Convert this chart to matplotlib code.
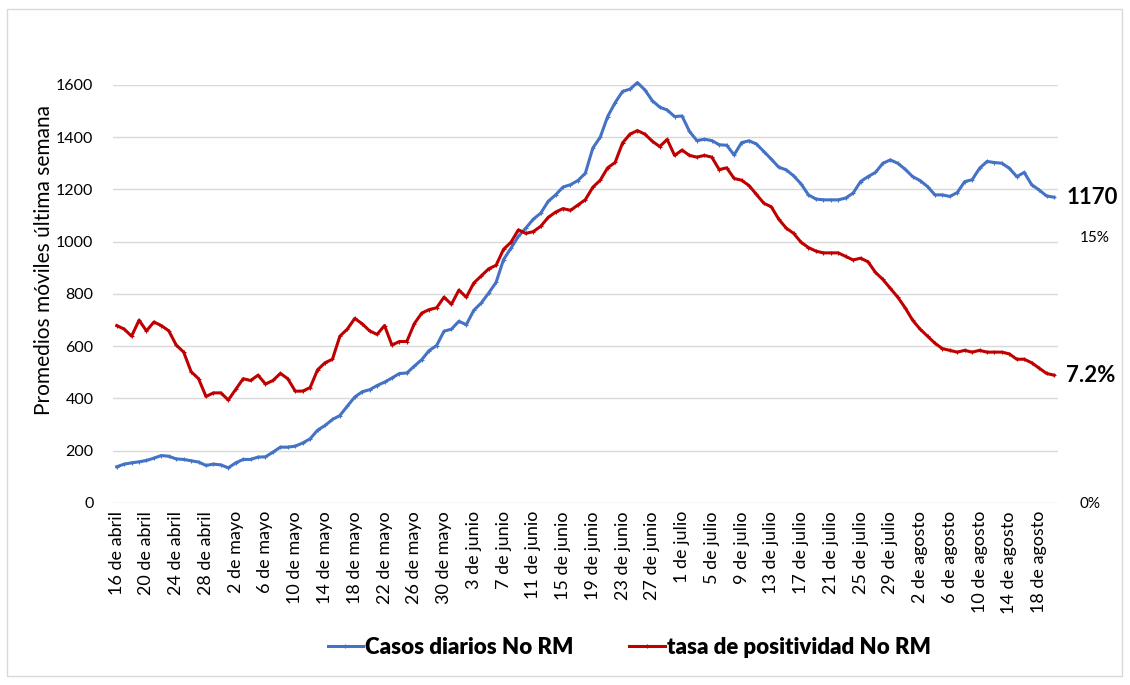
import pandas as pd
import matplotlib
matplotlib.use("Agg")
import matplotlib.pyplot as plt
from matplotlib.patches import Rectangle

plt.rcParams["font.family"] = ["Lato", "DejaVu Sans"]

# promedio movil casos diarios (no RM), 16 abril -> 20 agosto
casos = [
    138, 148, 153, 157, 162, 171, 181, 178, 168, 166,
    161, 156, 143, 148, 145, 134, 153, 166, 166, 175,
    176, 194, 213, 213, 217, 229, 245, 278, 296, 319,
    334, 370, 405, 425, 433, 449, 462, 478, 495, 497,
    523, 548, 583, 602, 657, 665, 695, 682, 737, 765,
    803, 844, 931, 975, 1020, 1052, 1086, 1109, 1154, 1179,
    1209, 1218, 1234, 1262, 1358, 1400, 1479, 1532, 1575, 1584,
    1609, 1581, 1540, 1515, 1504, 1479, 1481, 1422, 1387, 1392,
    1387, 1371, 1369, 1332, 1379, 1386, 1374, 1345, 1316, 1285,
    1275, 1252, 1221, 1179, 1163, 1160, 1160, 1160, 1167, 1186,
    1230, 1249, 1265, 1300, 1313, 1300, 1277, 1249, 1234, 1211,
    1179, 1179, 1173, 1188, 1230, 1237, 1281, 1307, 1303, 1300,
    1281, 1249, 1265, 1218, 1198, 1175, 1170,
]

# tasa de positividad (%)
tasa = [
    10.0, 9.8, 9.4, 10.3, 9.7, 10.2, 10.0, 9.7, 8.9, 8.5,
    7.4, 7.0, 6.0, 6.2, 6.2, 5.8, 6.4, 7.0, 6.9, 7.2,
    6.7, 6.9, 7.3, 7.0, 6.3, 6.3, 6.5, 7.5, 7.9, 8.1,
    9.4, 9.8, 10.4, 10.1, 9.7, 9.5, 10.0, 8.9, 9.1, 9.1,
    10.1, 10.7, 10.9, 11.0, 11.6, 11.2, 12.0, 11.6, 12.4, 12.8,
    13.2, 13.4, 14.3, 14.7, 15.4, 15.2, 15.3, 15.6, 16.1, 16.4,
    16.6, 16.5, 16.8, 17.1, 17.8, 18.2, 18.9, 19.2, 20.3, 20.8,
    21.0, 20.8, 20.4, 20.1, 20.5, 19.6, 19.9, 19.6, 19.5, 19.6,
    19.5, 18.8, 18.9, 18.3, 18.2, 17.9, 17.4, 16.9, 16.7, 16.0,
    15.5, 15.2, 14.7, 14.4, 14.2, 14.1, 14.1, 14.1, 13.9, 13.7,
    13.8, 13.6, 13.0, 12.6, 12.1, 11.6, 11.0, 10.3, 9.8, 9.4,
    9.0, 8.7, 8.6, 8.5, 8.6, 8.5, 8.6, 8.5, 8.5, 8.5,
    8.4, 8.1, 8.1, 7.9, 7.6, 7.3, 7.2,
]

fechas = pd.date_range("2020-04-16", periods=len(casos), freq="D")
meses = {4: "abril", 5: "mayo", 6: "junio", 7: "julio", 8: "agosto"}
etiquetas = [f"{f.day} de {meses[f.month]}" for f in fechas]
x = list(range(len(casos)))

azul = "#4472C4"
rojo = "#C00000"

fig = plt.figure(figsize=(11.3, 6.85), dpi=100)
ax = fig.add_axes([0.1, 0.266, 0.836, 0.61])
ax2 = ax.twinx()

l1, = ax.plot(x, casos, color=azul, lw=2.2, marker="+", ms=2.5, mew=0.8,
              label="Casos diarios No RM", zorder=3, clip_on=False)
l2, = ax2.plot(x, tasa, color=rojo, lw=2.2, marker="+", ms=2.5, mew=0.8,
               label="tasa de positividad No RM", zorder=3, clip_on=False)

ax.set_xlim(-0.5, len(x) - 0.5)
ax.set_ylim(0, 1600)
ax.set_yticks(range(0, 1601, 200))
ax2.set_ylim(0, 15 * 1600 / 1018)
ax2.set_yticks([0, 15])
ax2.set_yticklabels(["0%", "15%"])

ax.set_xticks(x[::4])
ax.set_xticklabels(etiquetas[::4], rotation=90, fontsize=13)
ax.tick_params(axis="x", length=0, pad=6)
ax.tick_params(axis="y", length=0, pad=14, labelsize=11.5)
ax2.tick_params(axis="y", length=0, pad=16, labelsize=11)

ax.grid(axis="y", color="#d9d9d9", lw=1)
ax.set_axisbelow(True)
for a in (ax, ax2):
    for s in a.spines.values():
        s.set_visible(False)

ax.set_ylabel("Promedios móviles última semana", fontsize=15)
ax.yaxis.set_label_coords(-0.062, 0.58)

ax.annotate(f"{casos[-1]}", xy=(x[-1], casos[-1]), xytext=(9, 0),
            textcoords="offset points", va="center", ha="left",
            fontsize=16, fontweight="bold")
ax2.annotate(f"{tasa[-1]}%", xy=(x[-1], tasa[-1]), xytext=(9, 0),
             textcoords="offset points", va="center", ha="left",
             fontsize=16, fontweight="bold")

fig.legend(handles=[l1, l2], loc="center", bbox_to_anchor=(0.557, 0.055),
           ncol=2, frameon=False, prop={"size": 16, "weight": "heavy"},
           handlelength=1.6, handletextpad=0.1, columnspacing=2.5)

fig.patches.append(Rectangle((7 / 1130, 9 / 685), 1115 / 1130, 667 / 685,
                             transform=fig.transFigure, fill=False,
                             edgecolor="#d9d9d9", lw=1))

fig.savefig("out.png", dpi=100)
